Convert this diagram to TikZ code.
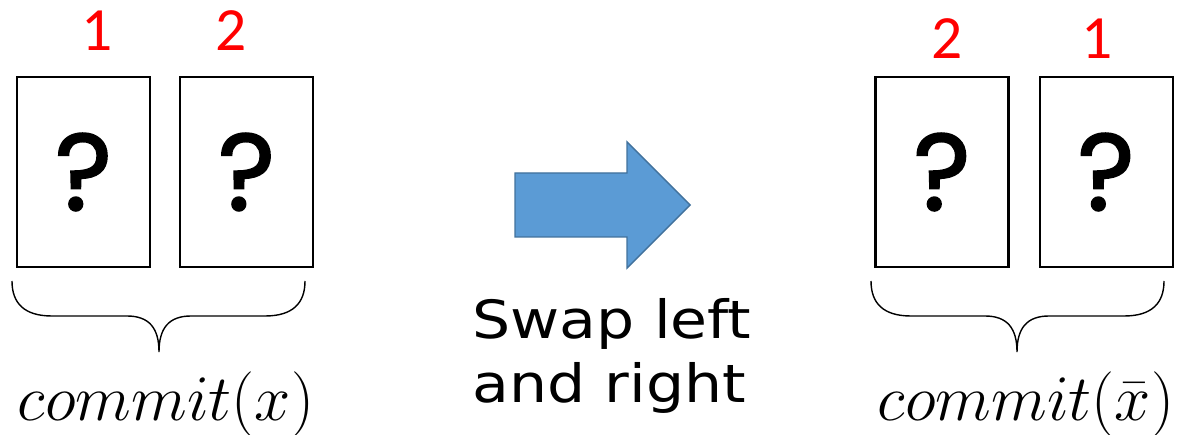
\documentclass[tikz,border=0pt]{standalone}
\usepackage{fix-cm}
\usepackage{fontspec}
\newfontfamily\numfont{Carlito}
\newfontfamily\qfont[FakeBold=1.8]{Poppins}
\newfontfamily\handfont[FakeStretch=1.14]{DejaVu Sans}
\usetikzlibrary{positioning}
\definecolor{arrowfill}{HTML}{5B9BD5}
\definecolor{arrowedge}{HTML}{41719C}

\begin{document}
\begin{tikzpicture}[
  x=0.02cm, y=-0.02cm,
  card/.style     = {draw, line width=1.2pt, minimum width=2.66cm,
                     minimum height=3.8cm, inner sep=0pt,
                     font=\qfont\fontsize{62pt}{62pt}\selectfont},
  num/.style      = {text=red, inner sep=0pt,
                     font=\numfont\fontsize{35pt}{35pt}\selectfont},
  formula/.style  = {inner sep=0pt, anchor=base,
                     font=\fontsize{37pt}{37pt}\selectfont},
  swaptext/.style = {inner sep=0pt, align=left,
                     font=\handfont\fontsize{30pt}{36pt}\selectfont},
  bigarrow/.style = {fill=arrowfill, draw=arrowedge, line width=0.8pt},
  curly/.style    = {line width=0.8pt}
]
  \useasboundingbox (0,0) rectangle (1179,435);

  % left pair
  \node[card] (l1) at (83.5,172) {?};
  \node[card, right=0.56cm of l1] (l2) {?};
  \node[num, above=5mm of l1, xshift=0.27cm]  (n1) {1};
  \node[num, above=5mm of l2, xshift=-0.3cm]  (n2) {2};

  % right pair
  \node[card] (r2) at (942,172) {?};
  \node[card, right=0.58cm of r2] (r1) {?};
  \node[num, above=3.4mm of r2, xshift=0.1cm]   (m2) {2};
  \node[num, above=3.4mm of r1, xshift=-0.19cm] (m1) {1};

  % braces
  \foreach \a/\m/\b in {12/159/305, 871/1017/1164}
    \draw[curly] (\a,281) .. controls (\a,303) and ({\a+12},316) .. ({\a+40},316)
      -- ({\m-32},316) .. controls ({\m-10},316) and (\m,328) .. (\m,352)
      .. controls (\m,328) and ({\m+10},316) .. ({\m+32},316)
      -- ({\b-40},316) .. controls ({\b-12},316) and (\b,303) .. (\b,281);

  \node[formula] (cx)  at (166,420)  {$commit(x)$};
  \node[formula] (cxb) at (1026,420) {$commit(\bar{x})$};

  % swap arrow
  \draw[bigarrow] (515,173) -- (627,173) -- (627,142) -- (690,205)
    -- (627,268) -- (627,237) -- (515,237) -- cycle;
  \node[swaptext] (swap) at (612,356) {Swap left\\and right};
\end{tikzpicture}
\end{document}
